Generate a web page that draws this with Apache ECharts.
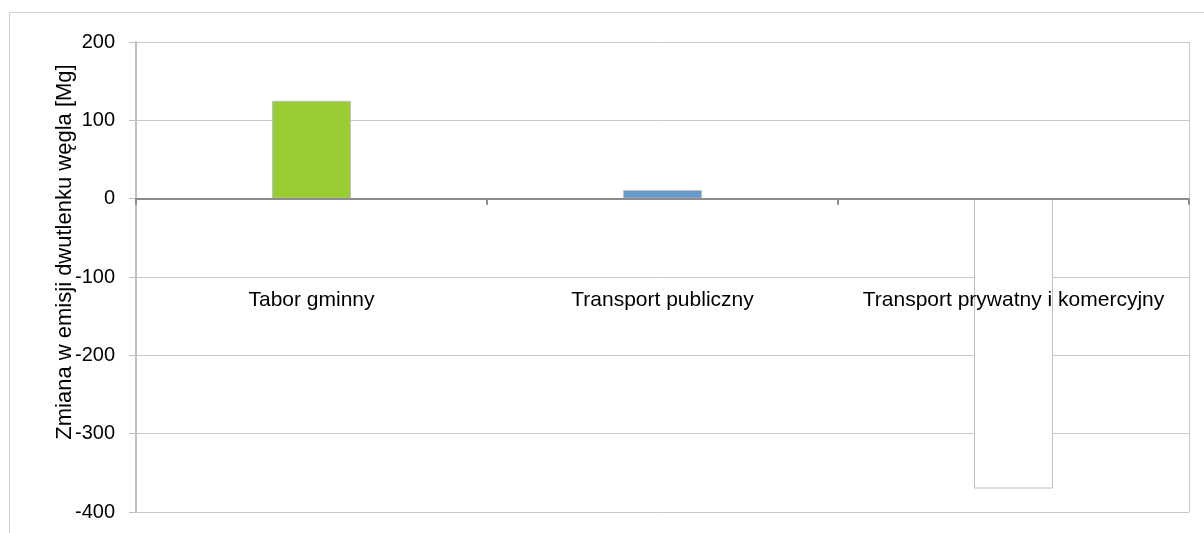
<!DOCTYPE html>
<html>
<head>
<meta charset="utf-8">
<script src="https://cdn.jsdelivr.net/npm/echarts@6/dist/echarts.min.js"></script>
<style>
  html, body { margin: 0; padding: 0; background: #ffffff; }
  #chart { width: 1204px; height: 533px; }
</style>
</head>
<body>
<div id="chart"></div>
<script>
// Categories, values and tick labels
const categories = ['Tabor gminny', 'Transport publiczny', 'Transport prywatny i komercyjny'];
const values = [125, 11, -370];
const barColors = ['#9ACD32', '#6699CC', '#FFFFFF'];
const yTicks = [-400, -300, -200, -100, 0, 100, 200];
const yTitle = 'Zmiana w emisji dwutlenku węgla [Mg]';

const FONT = '"Liberation Sans", Arial, sans-serif';

const chart = echarts.init(document.getElementById('chart'), null, { renderer: 'canvas' });

chart.setOption({
  animation: false,
  backgroundColor: '#ffffff',
  textStyle: { fontFamily: FONT },
  graphic: [{
    // outer chart frame
    type: 'rect',
    shape: { x: 9.5, y: 12.5, width: 1220, height: 560 },
    style: { fill: 'none', stroke: '#d0d0d0', lineWidth: 1 },
    silent: true, z: -10
  }, {
    // right edge of the plot area
    type: 'line',
    shape: { x1: 1189.5, y1: 42, x2: 1189.5, y2: 512 },
    style: { stroke: '#c8c8c8', lineWidth: 1 },
    silent: true
  }],
  grid: { left: 136, right: 15, top: 42, bottom: 21, containLabel: false, outerBoundsMode: 'none' },
  xAxis: {
    type: 'category',
    data: categories,
    boundaryGap: true,
    z: 5,
    axisLine: { onZero: true, lineStyle: { color: '#8c8c8c', width: 2 } },
    axisTick: { show: true, alignWithLabel: false, length: 6, lineStyle: { color: '#8c8c8c', width: 2 } },
    // category names sit below the zero line, inside the plot
    axisLabel: { color: '#000000', fontSize: 21, fontFamily: FONT, margin: -222, interval: 0, hideOverlap: false },
    splitLine: { show: false }
  },
  yAxis: {
    type: 'value',
    min: yTicks[0],
    max: yTicks[yTicks.length - 1],
    interval: 100,
    name: yTitle,
    nameLocation: 'middle',
    nameRotate: 90,
    nameGap: 60,
    nameMoveOverlap: false,
    nameTextStyle: { color: '#000000', fontSize: 22, fontFamily: FONT, padding: [0, 0, 0, 50] },
    axisLine: { show: true, lineStyle: { color: '#c0c0c0', width: 2 } },
    axisTick: { show: true, length: 7, lineStyle: { color: '#c0c0c0', width: 1 } },
    axisLabel: {
      color: '#000000', fontSize: 20, fontFamily: FONT, margin: 21,
      formatter: v => (yTicks.indexOf(v) >= 0 ? String(v) : '')
    },
    splitLine: { show: true, lineStyle: { color: '#c8c8c8', width: 1 } }
  },
  series: [{
    type: 'bar',
    barWidth: '22.5%',
    data: values.map((v, i) => ({
      value: v,
      itemStyle: {
        color: barColors[i],
        borderColor: '#c0c0c0',
        borderWidth: 1
      }
    }))
  }]
});
</script>
</body>
</html>
